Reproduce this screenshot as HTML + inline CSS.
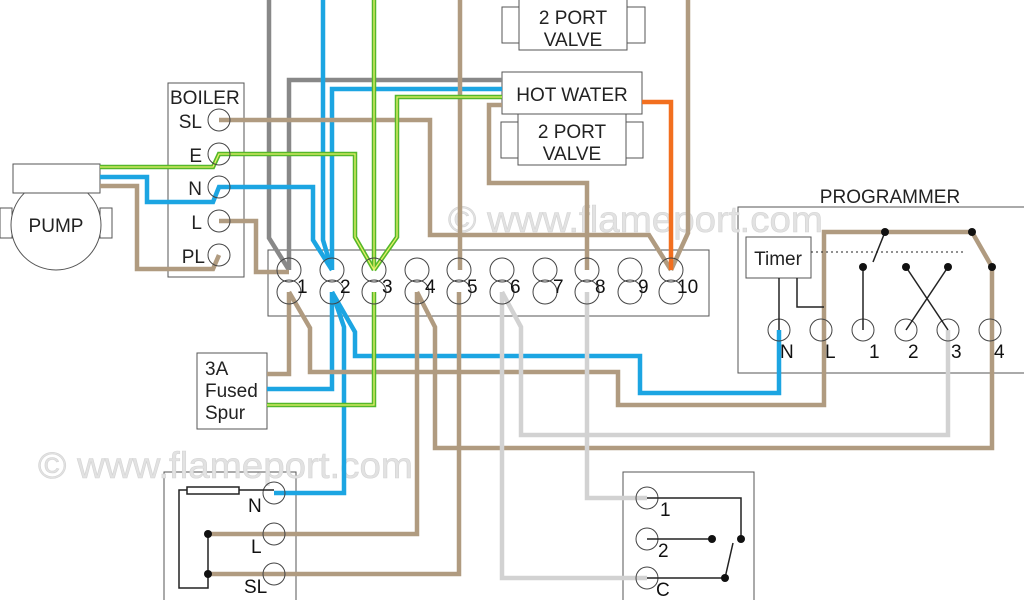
<!DOCTYPE html>
<html><head><meta charset="utf-8"><style>
html,body{margin:0;padding:0;background:#fff;}
svg{display:block;font-family:"Liberation Sans",Arial,sans-serif;}
</style></head><body>
<svg width="1024" height="600" viewBox="0 0 1024 600" xmlns="http://www.w3.org/2000/svg">
<rect width="1024" height="600" fill="#fff"/>
<g fill="#fff" stroke="#555" stroke-width="1">
<rect x="268" y="250" width="441" height="66"/>
<rect x="168" y="83" width="76" height="194"/>
<rect x="197" y="353" width="70" height="76"/>
<rect x="738" y="207" width="300" height="166"/>
<rect x="164" y="472" width="132" height="140"/>
<rect x="623" y="472" width="131" height="140"/>
<rect x="502" y="7" width="17" height="36"/><rect x="627" y="7" width="18" height="36"/>
<rect x="519" y="-2" width="108" height="52"/>
<rect x="501" y="122" width="17" height="36"/><rect x="626" y="122" width="17" height="36"/>
<rect x="518" y="114" width="108" height="51"/>
<rect x="502" y="72" width="140" height="42"/>
<rect x="0" y="208" width="12" height="30"/><rect x="100" y="208" width="12" height="30"/>
<circle cx="56" cy="225" r="45"/>
<rect x="13" y="164" width="87" height="29"/>
</g>
<g fill="#e2e2e2" font-size="37" stroke="#d4d4d4" stroke-width="0.6">
<text x="448" y="232" textLength="375" lengthAdjust="spacingAndGlyphs">© www.flameport.com</text>
<text x="38" y="478" textLength="375" lengthAdjust="spacingAndGlyphs">© www.flameport.com</text>
</g>
<rect x="746" y="237" width="65" height="41" fill="#fff" stroke="#555"/>
<g fill="#222" font-size="19">
<text x="573" y="24" text-anchor="middle">2 PORT</text>
<text x="573" y="46" text-anchor="middle">VALVE</text>
<text x="572" y="101" text-anchor="middle">HOT WATER</text>
<text x="572" y="138" text-anchor="middle">2 PORT</text>
<text x="572" y="160" text-anchor="middle">VALVE</text>
<text x="170" y="104">BOILER</text>
<text x="202" y="128" text-anchor="end">SL</text>
<text x="202" y="162" text-anchor="end">E</text>
<text x="202" y="195" text-anchor="end">N</text>
<text x="202" y="229" text-anchor="end">L</text>
<text x="205" y="263" text-anchor="end">PL</text>
<text x="56" y="232" text-anchor="middle">PUMP</text>
<text x="205" y="375">3A</text><text x="205" y="397">Fused</text><text x="205" y="419">Spur</text>
<text x="890" y="203" text-anchor="middle">PROGRAMMER</text>
<text x="778" y="265" text-anchor="middle">Timer</text>
</g>
<g fill="none" stroke-width="4.5" stroke-linejoin="miter">
<g stroke="#888">
<polyline points="269,0 269,238 289,270"/>
<polyline points="502,80 289,80 289,270"/>
</g>
<g stroke="#1ca5e2">
<polyline points="323,0 323,240 332,270"/>
<polyline points="502,89 332,89 332,270"/>
<polyline points="100,177 147,177 147,202 213,202 219,187 313,187 313,240 332,270"/>
<polyline points="332,292 332,389 267,389"/>
<polyline points="332,292 344,327 344,493 274,493"/>
<polyline points="332,292 355,332 355,356 640,356 640,393 779,393 779,330"/>
</g>
<g stroke="#b09b80">
<polyline points="219,120 430,120 430,235 649,235 671,270"/>
<polyline points="219,221 256,221 256,272 289,272"/>
<polyline points="460,0 460,270"/>
<polyline points="502,105 489,105 489,183 587,183 587,270"/>
<polyline points="688,0 688,233 671,270"/>
<polyline points="100,186 137,186 137,269 213,269 219,255"/>
<polyline points="289,292 289,374 267,374"/>
<polyline points="289,292 310,328 310,372 618,372 618,405 824,405 824,232 972,232 992,267 992,448 435,448 435,327 417,292"/>
<polyline points="417,292 417,534 208,534"/>
<polyline points="459,292 459,574 208,574"/>
</g>
<g stroke="#d2d2d2">
<polyline points="502,292 502,578 647,578"/>
<polyline points="502,292 521,327 521,435 948,435 948,330"/>
<polyline points="587,292 587,498 647,498"/>
</g>
<polyline stroke="#f26f1f" points="642,102 671,102 671,270"/>
<g stroke="#55b82a">
<polyline points="374,0 374,270"/>
<polyline points="502,97 397,97 397,237 374,270"/>
<polyline points="100,167 213,167 219,154 355,154 355,237 374,270"/>
<polyline points="374,292 374,405 267,405"/>
</g>
<g stroke="#e8f06a" stroke-width="1.3">
<polyline points="374,0 374,270"/>
<polyline points="502,97 397,97 397,237 374,270"/>
<polyline points="100,167 213,167 219,154 355,154 355,237 374,270"/>
<polyline points="374,292 374,405 267,405"/>
</g>
</g>
<g fill="none" stroke="#444" stroke-width="1">
<circle cx="219" cy="120" r="11"/><circle cx="219" cy="154" r="11"/><circle cx="219" cy="187" r="11"/><circle cx="219" cy="221" r="11"/><circle cx="219" cy="255" r="11"/>
<circle cx="289" cy="270" r="12"/><circle cx="289" cy="292" r="12"/>
<circle cx="332" cy="270" r="12"/><circle cx="332" cy="292" r="12"/>
<circle cx="374" cy="270" r="12"/><circle cx="374" cy="292" r="12"/>
<circle cx="417" cy="270" r="12"/><circle cx="417" cy="292" r="12"/>
<circle cx="459" cy="270" r="12"/><circle cx="459" cy="292" r="12"/>
<circle cx="502" cy="270" r="12"/><circle cx="502" cy="292" r="12"/>
<circle cx="545" cy="270" r="12"/><circle cx="545" cy="292" r="12"/>
<circle cx="587" cy="270" r="12"/><circle cx="587" cy="292" r="12"/>
<circle cx="630" cy="270" r="12"/><circle cx="630" cy="292" r="12"/>
<circle cx="671" cy="270" r="12"/><circle cx="671" cy="292" r="12"/>
<circle cx="779" cy="330" r="11"/><circle cx="821" cy="330" r="11"/><circle cx="863" cy="330" r="11"/><circle cx="906" cy="330" r="11"/><circle cx="948" cy="330" r="11"/><circle cx="990" cy="330" r="11"/>
<circle cx="274" cy="493" r="11"/><circle cx="274" cy="534" r="11"/><circle cx="274" cy="574" r="11"/>
<circle cx="647" cy="498" r="11"/><circle cx="647" cy="539" r="11"/><circle cx="647" cy="578" r="11"/>
</g>
<g fill="#111" font-size="19">
<text x="297" y="293">1</text><text x="340" y="293">2</text><text x="382" y="293">3</text><text x="425" y="293">4</text><text x="467" y="293">5</text>
<text x="510" y="293">6</text><text x="553" y="293">7</text><text x="595" y="293">8</text><text x="638" y="293">9</text><text x="677" y="293">10</text>
<text x="780" y="358">N</text><text x="825" y="358">L</text><text x="869" y="358">1</text><text x="908" y="358">2</text><text x="951" y="358">3</text><text x="994" y="358">4</text>
<text x="248" y="512">N</text><text x="251" y="553">L</text><text x="244" y="593">SL</text>
<text x="660" y="516">1</text><text x="658" y="557">2</text><text x="656" y="596">C</text>
</g>
<g fill="none" stroke="#222" stroke-width="1.5">
<line x1="779" y1="278" x2="779" y2="330"/>
<polyline points="797,278 797,307 824,307"/>
<line x1="811" y1="252" x2="963" y2="252" stroke-dasharray="2,3" stroke-width="1"/>
<line x1="863" y1="267" x2="863" y2="330"/>
<line x1="885" y1="232" x2="873" y2="262"/>
<line x1="906" y1="267" x2="948" y2="330"/>
<line x1="948" y1="267" x2="906" y2="330"/>
<rect x="187" y="487" width="52" height="7"/>
<polyline points="239,490 274,490"/>
<polyline points="187,490 179,490 179,588 208,588 208,534"/>
<polyline points="647,498 741,498 741,539"/>
<line x1="647" y1="539" x2="712" y2="539"/>
<line x1="647" y1="578" x2="725" y2="578"/>
<line x1="725" y1="578" x2="733" y2="543"/>
</g>
<g fill="#111">
<circle cx="885" cy="232" r="4"/><circle cx="972" cy="232" r="4"/>
<circle cx="863" cy="267" r="4"/><circle cx="906" cy="267" r="4"/><circle cx="948" cy="267" r="4"/><circle cx="992" cy="267" r="4"/>
<circle cx="208" cy="534" r="4"/><circle cx="208" cy="574" r="4"/>
<circle cx="741" cy="539" r="4"/><circle cx="712" cy="539" r="4"/><circle cx="725" cy="578" r="4"/>
</g>
</svg>
</body></html>
